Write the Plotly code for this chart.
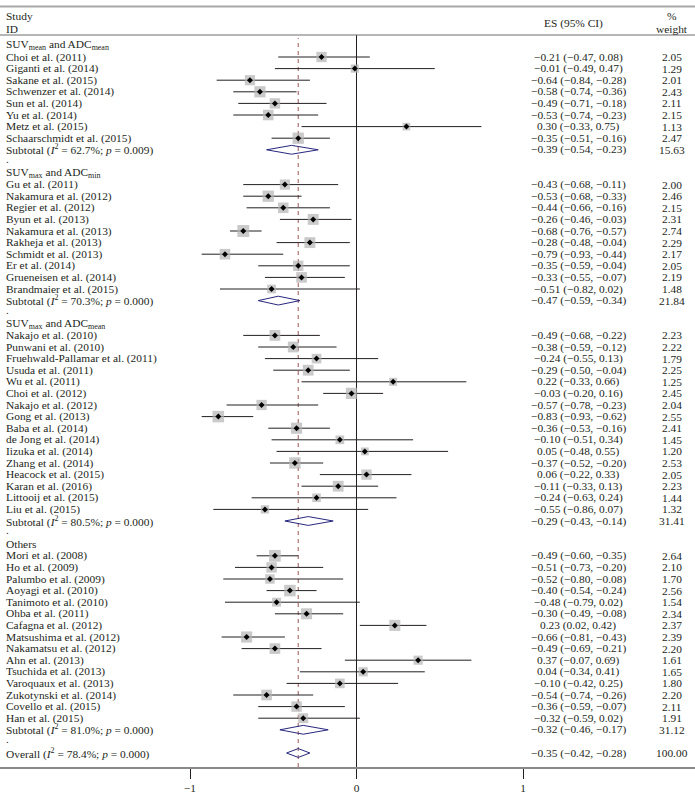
import math
import plotly.graph_objects as go

# ---------------- data ----------------
group_titles = [
    "SUV<sub>mean</sub> and ADC<sub>mean</sub>",
    "SUV<sub>max</sub> and ADC<sub>min</sub>",
    "SUV<sub>max</sub> and ADC<sub>mean</sub>",
    "Others",
]

g1_studies = ["Choi et al. (2011)", "Giganti et al. (2014)", "Sakane et al. (2015)",
              "Schwenzer et al. (2014)", "Sun et al. (2014)", "Yu et al. (2014)",
              "Metz et al. (2015)", "Schaarschmidt et al. (2015)"]
g1_es = [-0.21, -0.01, -0.64, -0.58, -0.49, -0.53, 0.30, -0.35]
g1_lo = [-0.47, -0.49, -0.84, -0.74, -0.71, -0.74, -0.33, -0.51]
g1_hi = [0.08, 0.47, -0.28, -0.36, -0.18, -0.23, 0.75, -0.16]
g1_w = [2.05, 1.29, 2.01, 2.43, 2.11, 2.15, 1.13, 2.47]

g2_studies = ["Gu et al. (2011)", "Nakamura et al. (2012)", "Regier et al. (2012)",
              "Byun et al. (2013)", "Nakamura et al. (2013)", "Rakheja et al. (2013)",
              "Schmidt et al. (2013)", "Er et al. (2014)", "Grueneisen et al. (2014)",
              "Brandmaier et al. (2015)"]
g2_es = [-0.43, -0.53, -0.44, -0.26, -0.68, -0.28, -0.79, -0.35, -0.33, -0.51]
g2_lo = [-0.68, -0.68, -0.66, -0.46, -0.76, -0.48, -0.93, -0.59, -0.55, -0.82]
g2_hi = [-0.11, -0.33, -0.16, -0.03, -0.57, -0.04, -0.44, -0.04, -0.07, 0.02]
g2_w = [2.00, 2.46, 2.15, 2.31, 2.74, 2.29, 2.17, 2.05, 2.19, 1.48]

g3_studies = ["Nakajo et al. (2010)", "Punwani et al. (2010)",
              "Fruehwald-Pallamar et al. (2011)", "Usuda et al. (2011)", "Wu et al. (2011)",
              "Choi et al. (2012)", "Nakajo et al. (2012)", "Gong et al. (2013)",
              "Baba et al. (2014)", "de Jong et al. (2014)", "Iizuka et al. (2014)",
              "Zhang et al. (2014)", "Heacock et al. (2015)", "Karan et al. (2016)",
              "Littooij et al. (2015)", "Liu et al. (2015)"]
g3_es = [-0.49, -0.38, -0.24, -0.29, 0.22, -0.03, -0.57, -0.83, -0.36, -0.10, 0.05,
         -0.37, 0.06, -0.11, -0.24, -0.55]
g3_lo = [-0.68, -0.59, -0.55, -0.50, -0.33, -0.20, -0.78, -0.93, -0.53, -0.51, -0.48,
         -0.52, -0.22, -0.33, -0.63, -0.86]
g3_hi = [-0.22, -0.12, 0.13, -0.04, 0.66, 0.16, -0.23, -0.62, -0.16, 0.34, 0.55,
         -0.20, 0.33, 0.13, 0.24, 0.07]
g3_w = [2.23, 2.22, 1.79, 2.25, 1.25, 2.45, 2.04, 2.55, 2.41, 1.45, 1.20, 2.53, 2.05,
        2.23, 1.44, 1.32]

g4_studies = ["Mori et al. (2008)", "Ho et al. (2009)", "Palumbo et al. (2009)",
              "Aoyagi et al. (2010)", "Tanimoto et al. (2010)", "Ohba et al. (2011)",
              "Cafagna et al. (2012)", "Matsushima et al. (2012)", "Nakamatsu et al. (2012)",
              "Ahn et al. (2013)", "Tsuchida et al. (2013)", "Varoquaux et al. (2013)",
              "Zukotynski et al. (2014)", "Covello et al. (2015)", "Han et al. (2015)"]
g4_es = [-0.49, -0.51, -0.52, -0.40, -0.48, -0.30, 0.23, -0.66, -0.49, 0.37, 0.04,
         -0.10, -0.54, -0.36, -0.32]
g4_lo = [-0.60, -0.73, -0.80, -0.54, -0.79, -0.49, 0.02, -0.81, -0.69, -0.07, -0.34,
         -0.42, -0.74, -0.59, -0.59]
g4_hi = [-0.35, -0.20, -0.08, -0.24, 0.02, -0.08, 0.42, -0.43, -0.21, 0.69, 0.41,
         0.25, -0.26, -0.07, 0.02]
g4_w = [2.64, 2.10, 1.70, 2.56, 1.54, 2.34, 2.37, 2.39, 2.20, 1.61, 1.65, 1.80, 2.20,
        2.11, 1.91]

sub_i2 = ["62.7%", "70.3%", "80.5%", "81.0%"]
sub_p = ["0.009", "0.000", "0.000", "0.000"]
sub_es = [-0.39, -0.47, -0.29, -0.32]
sub_lo = [-0.54, -0.59, -0.43, -0.46]
sub_hi = [-0.23, -0.34, -0.14, -0.17]
sub_w = [15.63, 21.84, 31.41, 31.12]

overall_i2 = "78.4%"
overall_p = "0.000"
overall_es = -0.35
overall_lo = -0.42
overall_hi = -0.28
overall_w = 100.00

x_ticks = [-1, 0, 1]
x_ticktext = ["\u22121", "0", "1"]

# ---------------- layout constants ----------------
W, H = 695, 797
PLOT_H = 767            # plot area height (bottom margin 30)
ROW0_PX, ROW_PX = 45.4, 11.6
X0 = -1 - 190 / 166.5
X1 = X0 + W / 166.5
Y_TOP = -ROW0_PX / ROW_PX
Y_BOT = (PLOT_H - ROW0_PX) / ROW_PX

FONT = "Liberation Serif, Times New Roman, serif"
TXT = "#231f20"
FS = 11.4
NAME_X = 5


def fmt(v):
    return f"{v:.2f}".replace("-", "\u2212")


def es_text(e, l, h):
    return f"{fmt(e)} ({fmt(l)}, {fmt(h)})"


groups = [
    (g1_studies, g1_es, g1_lo, g1_hi, g1_w),
    (g2_studies, g2_es, g2_lo, g2_hi, g2_w),
    (g3_studies, g3_es, g3_lo, g3_hi, g3_w),
    (g4_studies, g4_es, g4_lo, g4_hi, g4_w),
]

annotations = []


def add_text(text, row, xpx, anchor):
    annotations.append(dict(
        text=text, x=xpx / W, xref="paper", y=row, yref="y",
        xanchor=anchor, yanchor="middle", showarrow=False, borderpad=0,
        font=dict(family=FONT, size=FS, color=TXT)))


ci_x, ci_y = [], []
sq_x, sq_y, sq_s = [], [], []
dm_x, dm_y = [], []
diam = []

row = 0
for gi, (names, es, lo, hi, w) in enumerate(groups):
    add_text(group_titles[gi], row, NAME_X, "left")
    row += 1
    for n, e, l, h, wt in zip(names, es, lo, hi, w):
        add_text(n, row, NAME_X, "left")
        add_text(es_text(e, l, h), row, 578, "center")
        add_text(f"{wt:.2f}", row, 672, "center")
        ci_x += [l, h, None]
        ci_y += [row, row, None]
        sq_x.append(e); sq_y.append(row); sq_s.append(7.2 * math.sqrt(wt))
        dm_x.append(e); dm_y.append(row)
        row += 1
    add_text(f"Subtotal (<i>I</i><sup>2</sup> = {sub_i2[gi]}; <i>p</i> = {sub_p[gi]})",
             row, NAME_X, "left")
    add_text(es_text(sub_es[gi], sub_lo[gi], sub_hi[gi]), row, 578, "center")
    add_text(f"{sub_w[gi]:.2f}", row, 672, "center")
    diam.append((sub_es[gi], sub_lo[gi], sub_hi[gi], row))
    row += 1
    add_text(".", row - 0.2, NAME_X, "left")
    row += 1

add_text(f"Overall (<i>I</i><sup>2</sup> = {overall_i2}; <i>p</i> = {overall_p})",
         row, NAME_X, "left")
add_text(es_text(overall_es, overall_lo, overall_hi), row, 578, "center")
add_text(f"{overall_w:.2f}", row, 672, "center")
diam.append((overall_es, overall_lo, overall_hi, row))


def px_row(px):
    return (px - ROW0_PX) / ROW_PX


add_text("Study", px_row(15.5), NAME_X, "left")
add_text("ID", px_row(28.5), NAME_X, "left")
add_text("ES (95% CI)", px_row(23), 573, "center")
add_text("%", px_row(15.5), 672, "center")
add_text("weight", px_row(28.5), 672, "center")

dx, dy = [], []
for e, l, h, r in diam:
    dx += [l, e, h, e, l, None]
    dy += [r, r - 0.38, r, r + 0.38, r, None]

fig = go.Figure()
fig.add_trace(go.Scatter(x=ci_x, y=ci_y, mode="lines",
                         line=dict(color="#231f20", width=1), hoverinfo="skip"))
fig.add_trace(go.Scatter(x=sq_x, y=sq_y, mode="markers",
                         marker=dict(symbol="square", size=sq_s, color="#b3b3b3",
                                     line=dict(width=0)), hoverinfo="skip"))
fig.add_trace(go.Scatter(x=dm_x, y=dm_y, mode="markers",
                         marker=dict(symbol="diamond", size=4.6, color="#000000",
                                     line=dict(width=0)), hoverinfo="skip"))
fig.add_trace(go.Scatter(x=dx, y=dy, mode="lines",
                         line=dict(color="#27277f", width=1), hoverinfo="skip"))

shapes = [
    dict(type="line", xref="paper", yref="paper", x0=0, x1=1,
         y0=1 - 6.5 / PLOT_H, y1=1 - 6.5 / PLOT_H,
         line=dict(color="#a8a8a8", width=2)),
    dict(type="line", xref="paper", yref="paper", x0=0, x1=1,
         y0=1 - 35 / PLOT_H, y1=1 - 35 / PLOT_H,
         line=dict(color="#6e6e6e", width=1.2)),
    dict(type="line", xref="x", yref="paper", x0=0, x1=0,
         y0=0, y1=1 - 35 / PLOT_H, layer="below",
         line=dict(color="#231f20", width=1)),
    dict(type="line", xref="x", yref="paper", x0=overall_es, x1=overall_es,
         y0=0, y1=1 - 38 / PLOT_H, layer="below",
         line=dict(color="#9e5552", width=1, dash="4px,4px")),
]

fig.update_layout(
    width=W, height=H,
    margin=dict(l=0, r=0, t=0, b=H - PLOT_H),
    paper_bgcolor="white", plot_bgcolor="white",
    showlegend=False,
    shapes=shapes,
    annotations=annotations,
    xaxis=dict(range=[X0, X1], showgrid=False, zeroline=False,
               showline=True, linecolor="#8a8a8a", linewidth=1.5,
               ticks="outside", tickvals=x_ticks, ticktext=x_ticktext,
               ticklen=10, tickwidth=1, tickcolor="#231f20",
               tickfont=dict(family=FONT, size=FS, color=TXT), fixedrange=True),
    yaxis=dict(range=[Y_BOT, Y_TOP], visible=False, fixedrange=True),
)

fig.write_html(
    "out.html",
    config={"displayModeBar": False},
    post_script="document.body.style.margin='0';document.body.style.overflow='hidden';",
)
